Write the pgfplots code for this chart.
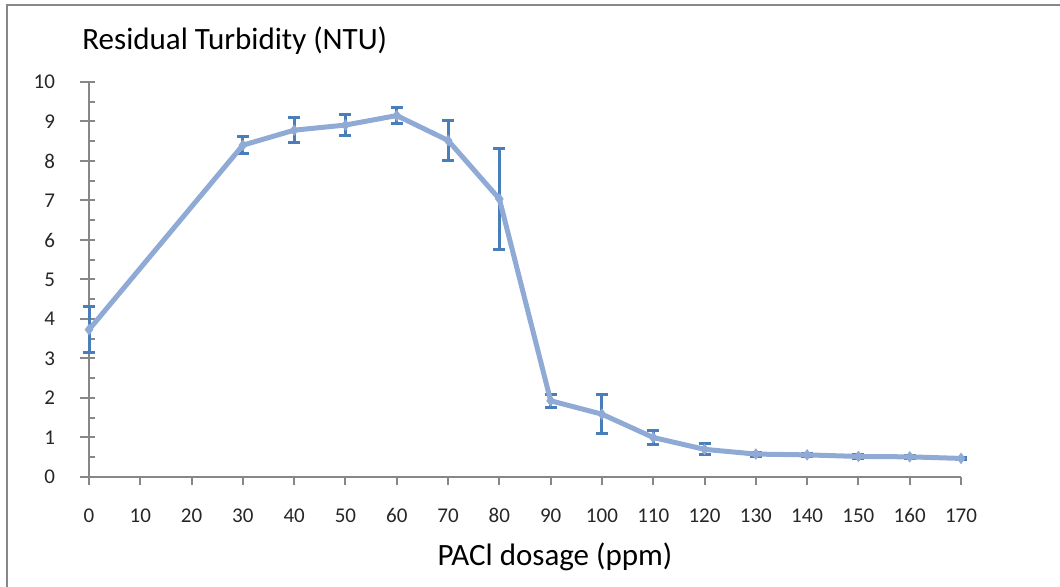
\documentclass[border=0pt]{standalone}
\usepackage{pgfplots}
\pgfplotsset{compat=1.18}
\usepackage{pgfplotstable}
\usepackage{fontspec}
\setmainfont{Carlito}
\definecolor{linec}{RGB}{143,170,212}
\definecolor{errc}{RGB}{74,126,187}
\definecolor{axc}{RGB}{135,135,135}
\pgfplotstableread{
x y e
0 3.73 0.58
30 8.40 0.21
40 8.78 0.31
50 8.91 0.27
60 9.15 0.20
70 8.52 0.50
80 7.04 1.27
90 1.93 0.16
100 1.59 0.49
110 1.00 0.18
120 0.70 0.14
130 0.58 0.05
140 0.56 0.04
150 0.52 0.04
160 0.51 0.04
170 0.47 0.02
}\datatable
\begin{document}
\begin{tikzpicture}
\useasboundingbox (0,0) rectangle (530pt,293.5pt);
\draw[axc, line width=1pt] (3.5pt,-5pt) -- (3.5pt,291pt) -- (535pt,291pt);
\node[anchor=west, inner sep=0pt, font=\fontsize{15.5}{18}\selectfont] at (41pt,273pt) {Residual Turbidity (NTU)};
\node[anchor=center, inner sep=0pt, font=\fontsize{15.5}{18}\selectfont] at (277.5pt,15pt) {PACl dosage (ppm)};
\begin{axis}[
  at={(44.5pt,55pt)}, anchor=south west, scale only axis,
  width=436pt, height=197.5pt,
  xmin=0, xmax=170, ymin=0, ymax=10,
  axis x line*=bottom, axis y line*=left,
  axis line style={axc, line width=1pt},
  xtick={0,10,...,170}, ytick={0,1,...,10},
  minor y tick num=1,
  tick style={axc, line width=1pt},
  x tick style={/pgfplots/major tick length=4pt},
  y tick style={/pgfplots/major tick length=7.5pt},
  major y tick style={xshift=-4.5pt},
  minor tick length=3pt,
  xtick align=outside,
  ytick align=inside,
  /pgf/number format/assume math mode=true,
  tick label style={font=\fontsize{10.5}{12}\selectfont, text=black!85},
  xticklabel style={yshift=-8pt},
  yticklabel style={xshift=-13.5pt},
  clip=false,
]
\addplot[draw=none, mark=none, forget plot,
  error bars/.cd, y dir=both, y explicit,
  error bar style={draw=errc, line width=1.5pt},
  error mark options={draw=errc, rotate=90, mark size=3pt, line width=1.5pt}]
  table[x=x, y=y, y error=e] {\datatable};
\addplot[linec, line width=2.5pt, mark=diamond*, mark size=2.5pt, mark options={solid, draw=linec, fill=linec, line width=0.5pt}]
  table[x=x, y=y] {\datatable};
\end{axis}
\end{tikzpicture}
\end{document}
